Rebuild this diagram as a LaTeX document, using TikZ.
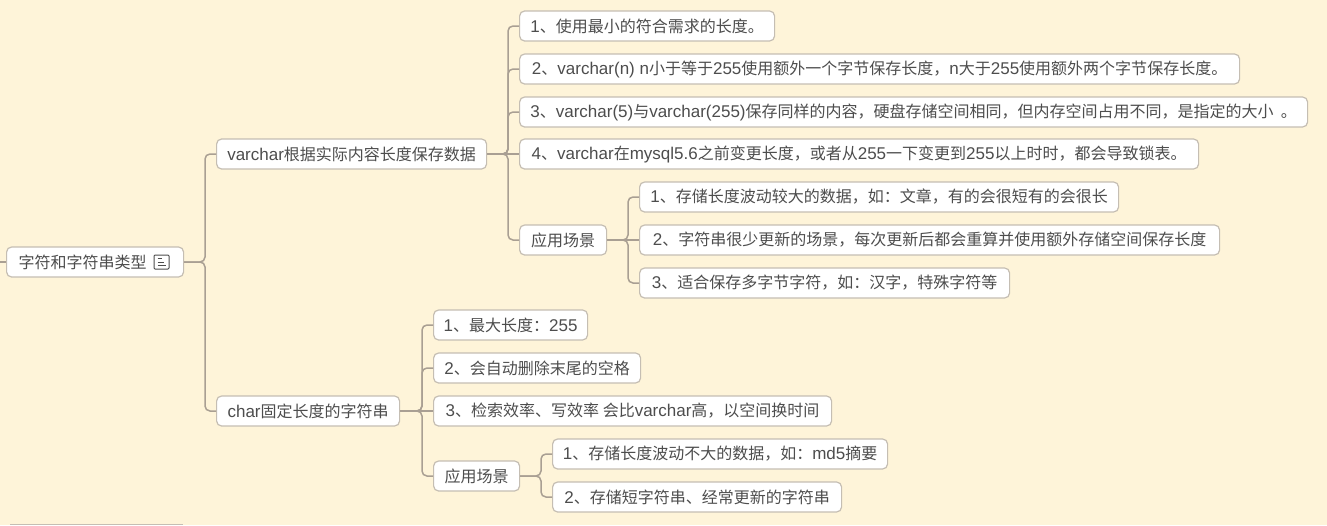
\documentclass[tikz,border=0pt]{standalone}
\usepackage{fontspec}
\setmainfont{Liberation Sans}
\newfontfamily\zhfont[Scale=0.9412]{Noto Sans CJK SC}
\newcommand{\cn}[1]{{\zhfont #1}}
\definecolor{paper}{HTML}{FEF4D9}
\definecolor{wire}{HTML}{A99F93}
\definecolor{edge}{HTML}{C5BEB3}
\definecolor{ink}{HTML}{4D4D4D}
\tikzset{
 topic/.style={draw=edge,line width=1.2pt,fill=white,rounded corners=5pt,anchor=west,
  minimum height=30pt,inner sep=0pt,text=ink,font=\fontsize{17}{19}\selectfont,minimum width=#1},
 branch/.style={draw=wire,line width=1.5pt,rounded corners=5pt,
  to path={-- ([xshift=-11pt]\tikztotarget.west |- \tikztostart) |- (\tikztotarget.west)}},
 straight/.style={draw=wire,line width=1.5pt}
}
\begin{document}
\begin{tikzpicture}[x=1pt,y=-1pt]
 \fill[paper] (0,0) rectangle (1327,525);
 \useasboundingbox (0,0) rectangle (1327,525);

 \node[topic=177] (root) at (6,262) {\cn{字符和字符串类型}\rule{25pt}{0pt}};
 \node[topic=270] (vc) at (216,154) {varchar\cn{根据实际内容长度保存数据}};
 \node[topic=183] (ch) at (216,411) {char\cn{固定长度的字符串}};

 \node[topic=255] (vc1) at (519,26) {1\cn{、使用最小的符合需求的长度。}};
 \node[topic=720] (vc2) at (519,69) {2\cn{、}varchar(n) n\cn{小于等于}255\cn{使用额外一个字节保存长度，}n\cn{大于}255\cn{使用额外两个字节保存长度。}};
 \node[topic=788] (vc3) at (519,112) {3\cn{、}varchar(5)\cn{与}varchar(255)\cn{保存同样的内容，硬盘存储空间相同，但内存空间占用不同，是指定的大小\ \ 。}};
 \node[topic=679] (vc4) at (519,154) {4\cn{、}varchar\cn{在}mysql5.6\cn{之前变更长度，或者从}255\cn{一下变更到}255\cn{以上时时，都会导致锁表。}};
 \node[topic=87] (vcuse) at (519,240) {\cn{应用场景}};

 \node[topic=479] (vcu1) at (639,197) {1\cn{、存储长度波动较大的数据，如：文章，有的会很短有的会很长}};
 \node[topic=580] (vcu2) at (639,240) {2\cn{、字符串很少更新的场景，每次更新后都会重算并使用额外存储空间保存长度}};
 \node[topic=370] (vcu3) at (639,283) {3\cn{、适合保存多字节字符，如：汉字，特殊字符等}};

 \node[topic=154] (ch1) at (433,325) {1\cn{、最大长度：}255};
 \node[topic=207] (ch2) at (433,368) {2\cn{、会自动删除末尾的空格}};
 \node[topic=398] (ch3) at (433,411) {3\cn{、检索效率、写效率 会比}varchar\cn{高，以空间换时间}};
 \node[topic=86] (chuse) at (433,476) {\cn{应用场景}};

 \node[topic=335] (chu1) at (552,454) {1\cn{、存储长度波动不大的数据，如：}md5\cn{摘要}};
 \node[topic=289] (chu2) at (552,497) {2\cn{、存储短字符串、经常更新的字符串}};

 % note icon beside the root text
 \node[draw=ink,line width=1pt,rounded corners=1pt,minimum width=15pt,minimum height=14pt,inner sep=0pt] (note) at (161.5,262) {};
 \draw[ink,line width=1pt] ([shift={(-4,-3.5)}]note.center) -- ++(4.5,0);
 \draw[ink,line width=1pt] ([shift={(-4,0)}]note.center) -- ++(6,0);
 \draw[ink,line width=1pt] ([shift={(-4,3.5)}]note.center) -- ++(8.5,0);

 % connectors
 \coordinate (stub) at (0,262);
 \draw[straight] (stub) -- (root.west);
 \draw[branch] (root.east) to (vc);
 \draw[branch] (root.east) to (ch);

 \draw[branch] (vc.east) to (vc1);
 \draw[branch] (vc.east) to (vc2);
 \draw[branch] (vc.east) to (vc3);
 \draw[straight] (vc.east) -- (vc4.west);
 \draw[branch] (vc.east) to (vcuse);

 \draw[branch] (vcuse.east) to (vcu1);
 \draw[straight] (vcuse.east) -- (vcu2.west);
 \draw[branch] (vcuse.east) to (vcu3);

 \draw[branch] (ch.east) to (ch1);
 \draw[branch] (ch.east) to (ch2);
 \draw[straight] (ch.east) -- (ch3.west);
 \draw[branch] (ch.east) to (chuse);

 \draw[branch] (chuse.east) to (chu1);
 \draw[branch] (chuse.east) to (chu2);

 % edge of a box cut off by the page
 \draw[edge,line width=1.2pt] (10,524.5) -- (183,524.5);
\end{tikzpicture}
\end{document}
